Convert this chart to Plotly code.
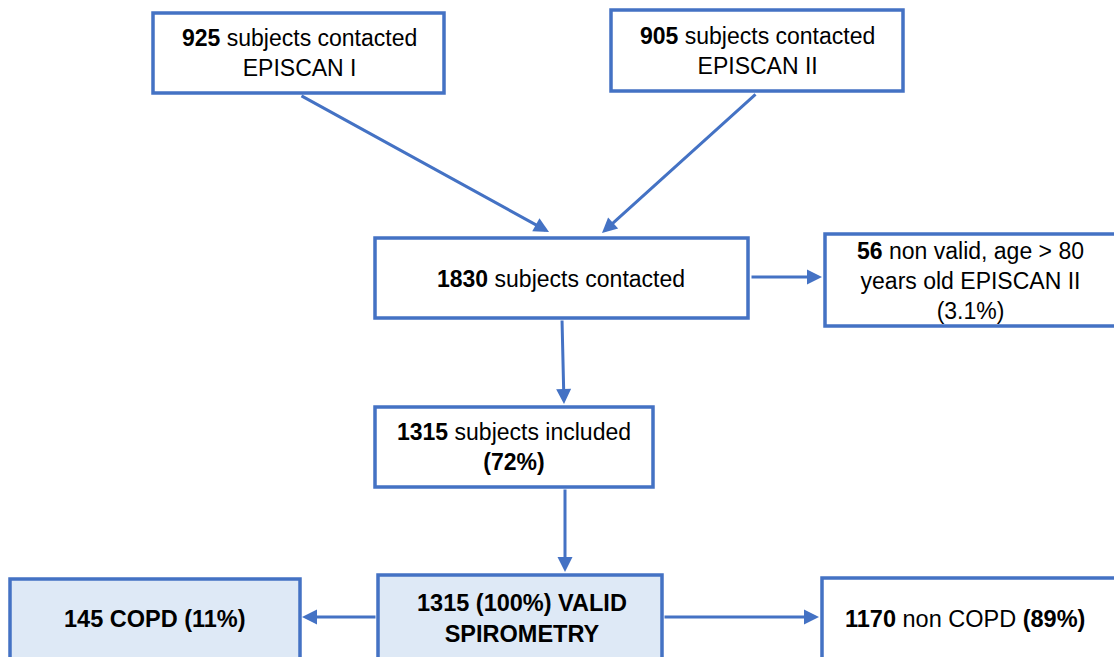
import plotly.graph_objects as go

# ---- data ----
counts = [925, 905, 1830, 56, 1315, 1315, 145, 1170]
labels = [
    "<b>925</b> subjects contacted<br>EPISCAN I",
    "<b>905</b> subjects contacted<br>EPISCAN II",
    "<b>1830</b> subjects contacted",
    "<b>56</b> non valid, age > 80<br>years old EPISCAN II<br>(3.1%)",
    "<b>1315</b> subjects included<br><b>(72%)</b>",
    "<b>1315 (100%) VALID<br>SPIROMETRY</b>",
    "<b>145 COPD (11%)</b>",
    "<b>1170</b> non COPD <b>(89%)</b>",
]
bottom_row = [False, False, False, False, False, True, True, True]
filled = [False, False, False, False, False, True, True, False]

# ---- layout geometry (x0, y0, x1, y1) in pixels ----
boxes = [
    (153, 13, 444, 93),
    (611, 10, 903, 91),
    (375, 238, 748, 318),
    (825, 234, 1120, 326),
    (375, 407, 653, 487),
    (378, 575, 662, 660),
    (10, 579, 300, 660),
    (822, 578, 1120, 660),
]
text_pos = [
    (299, 53), (757, 51), (561, 279), (970, 281), (514, 447),
    (522, 618), (155, 619), (965, 619),
]
arrows = [  # (tail_x, tail_y, head_x, head_y)
    (300, 95, 549, 232),
    (757, 93, 602, 233),
    (750, 277, 822, 277),
    (562, 319, 564, 404),
    (565, 488, 565, 572),
    (377, 617, 302, 617),
    (663, 617, 819, 617),
]

BLUE = "#4472C4"
FILL = "#DEE9F6"

fig = go.Figure()
fig.add_trace(go.Scatter(x=[0, 1114], y=[0, 657], mode="markers",
                         marker=dict(opacity=0), hoverinfo="skip", showlegend=False))

for i, (x0, y0, x1, y1) in enumerate(boxes):
    fig.add_shape(type="rect", x0=x0, y0=y0, x1=x1, y1=y1,
                  line=dict(color=BLUE, width=3.5),
                  fillcolor=FILL if filled[i] else "white", layer="below")

for i, (tx, ty) in enumerate(text_pos):
    fig.add_annotation(x=tx, y=ty, text=labels[i], showarrow=False,
                       font=dict(family="Liberation Sans, Arial",
                                 size=23 if not bottom_row[i] else 23.5, color="black"),
                       align="center", xanchor="center", yanchor="middle")

for (ax, ay, hx, hy) in arrows:
    fig.add_annotation(x=hx, y=hy, ax=ax, ay=ay, xref="x", yref="y",
                       axref="x", ayref="y", text="", showarrow=True,
                       arrowhead=2, arrowsize=1, arrowwidth=3, arrowcolor=BLUE)

fig.update_xaxes(range=[0, 1114], visible=False, fixedrange=True)
fig.update_yaxes(range=[657, 0], visible=False, fixedrange=True)
fig.update_layout(width=1114, height=657, margin=dict(l=0, r=0, t=0, b=0),
                  plot_bgcolor="white", paper_bgcolor="white", showlegend=False)

fig.write_html("out.html", config={"displayModeBar": False},
               post_script="document.body.style.margin='0';document.body.style.overflow='hidden';")
